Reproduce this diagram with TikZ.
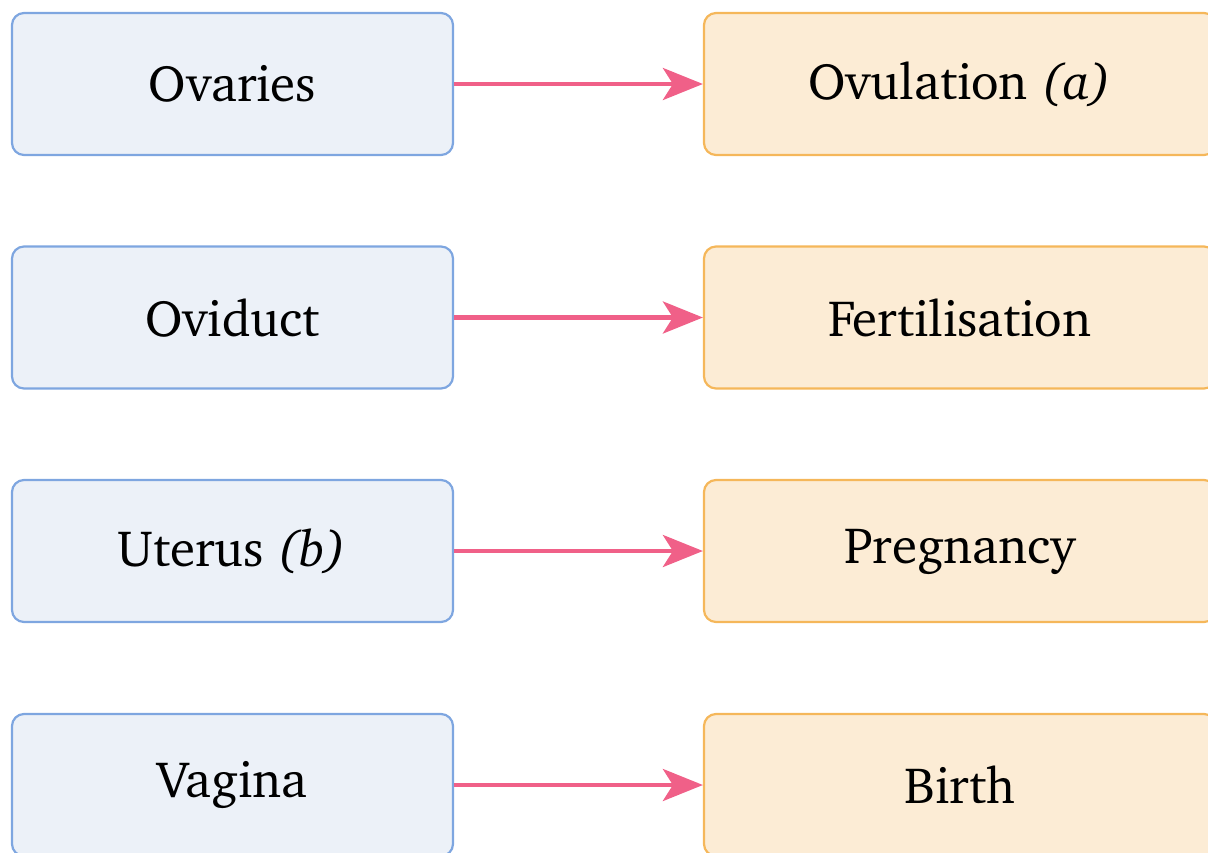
\documentclass[tikz,border=0pt]{standalone}
\usepackage[T1]{fontenc}
\usepackage{charter}
\usetikzlibrary{arrows.meta}
\definecolor{organfill}{HTML}{ECF1F8}
\definecolor{organline}{HTML}{7EA6E0}
\definecolor{eventfill}{HTML}{FCECD5}
\definecolor{eventline}{HTML}{F5B75A}
\definecolor{linkpink}{HTML}{F06088}
\tikzset{
  organ/.style={draw=organline, fill=organfill, line width=2.2pt, rounded corners=12pt,
    minimum width=441pt, minimum height=142pt, inner sep=0pt,
    font=\fontsize{51}{60}\selectfont},
  event/.style={draw=eventline, fill=eventfill, line width=2.2pt, rounded corners=12pt,
    minimum width=512pt, minimum height=142pt, inner sep=0pt,
    font=\fontsize{51}{60}\selectfont},
  link/.style={draw=linkpink, line width=4.5pt,
    -{Stealth[length=40pt,width=32pt,inset=10pt]}}
}
\begin{document}
\begin{tikzpicture}[x=1pt,y=-1pt]
\useasboundingbox (0,0) rectangle (1208,852);
\node[organ] (ovaries) at (232.5,84) {Ovaries};
\node[organ] (oviduct) at (232.5,317.5) {Oviduct};
\node[organ] (uterus) at (232.5,551) {Uterus \textit{(b)}};
\node[organ] (vagina) at (232.5,785) {Vagina};
\node[event] (ovulation) at (960,84) {Ovulation \textit{(a)}};
\node[event] (fert) at (960,317.5) {Fertilisation};
\node[event] (preg) at (960,551) {Pregnancy};
\node[event] (birth) at (960,785) {Birth};
\draw[link] (ovaries) -- (ovulation);
\draw[link] (oviduct) -- (fert);
\draw[link] (uterus) -- (preg);
\draw[link] (vagina) -- (birth);
\end{tikzpicture}
\end{document}
